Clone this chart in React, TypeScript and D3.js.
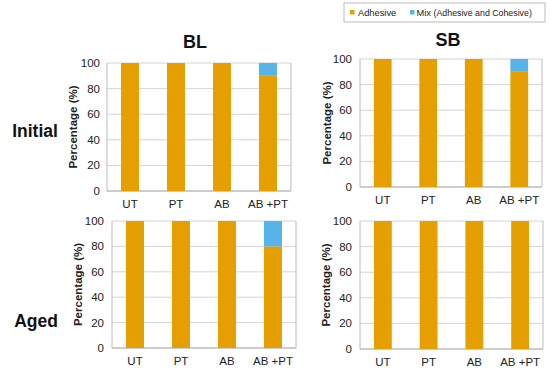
import React from "react";
import * as d3 from "d3";

const categories = ["UT", "PT", "AB", "AB +PT"];
const yTicks = [0, 20, 40, 60, 80, 100];
const seriesNames = ["Adhesive", "Mix"];
const blInitialAdhesive = [100, 100, 100, 90];
const blInitialMix = [0, 0, 0, 10];
const sbInitialAdhesive = [100, 100, 100, 90];
const sbInitialMix = [0, 0, 0, 10];
const blAgedAdhesive = [100, 100, 100, 80];
const blAgedMix = [0, 0, 0, 20];
const sbAgedAdhesive = [100, 100, 100, 100];
const sbAgedMix = [0, 0, 0, 0];

const ORANGE = "#E69F00";
const BLUE = "#56B4E9";
const FONT = "'Liberation Sans', Arial, sans-serif";

type PanelProps = {
  left: number; right: number; top: number; bottom: number;
  adhesive: number[]; mix: number[]; titleX: number; tickX: number;
};

function Panel({ left, right, top, bottom, adhesive, mix, titleX, tickX }: PanelProps) {
  const x = d3.scaleBand<string>().domain(categories).range([left, right]).paddingInner(0.61).paddingOuter(0.305);
  const y = d3.scaleLinear().domain([0, 100]).range([bottom, top]);
  const stack = d3.stack<any>().keys(seriesNames)(
    categories.map((c, i) => ({ cat: c, Adhesive: adhesive[i], Mix: mix[i] }))
  );
  const colors = [ORANGE, BLUE];
  return (
    <g>
      {yTicks.map((t) => (
        <line key={t} x1={left} x2={right} y1={y(t)} y2={y(t)} stroke={t === 0 ? "#9a9a9a" : "#d4d4d4"} strokeWidth={1} />
      ))}
      <line x1={left} x2={left} y1={top} y2={bottom} stroke="#bcbcbc" />
      <line x1={right} x2={right} y1={top} y2={bottom} stroke="#bcbcbc" />
      {stack.map((s, si) =>
        s.map((d, i) => (
          <rect key={si + "-" + i} x={x(categories[i])} width={x.bandwidth()} y={y(d[1])} height={Math.max(0, y(d[0]) - y(d[1]))} fill={colors[si]} />
        ))
      )}
      {yTicks.map((t) => (
        <text key={"t" + t} x={tickX} y={y(t)} dy="0.35em" textAnchor="end" fontSize={11.5} fontFamily={FONT} fill="#222">{t}</text>
      ))}
      {categories.map((c) => (
        <text key={"c" + c} x={x(c)! + x.bandwidth() / 2} y={bottom + 13} dy="0.35em" textAnchor="middle" fontSize={11.5} fontFamily={FONT} fill="#222">{c}</text>
      ))}
      <text transform={`translate(${titleX},${(top + bottom) / 2}) rotate(-90)`} textAnchor="middle" dy="0.35em" fontSize={11.5} fontWeight="bold" fontFamily={FONT} fill="#222">Percentage (%)</text>
    </g>
  );
}

export default function App() {
  return (
    <svg width={550} height={377} style={{ position: "absolute", left: 0, top: 0, background: "#fff" }}>
      <rect x={344} y={3} width={201} height={19} fill="#fff" stroke="#aaa" strokeWidth={0.8} />
      <rect x={350} y={10} width={4.5} height={4.5} fill={ORANGE} />
      <text x={358} y={12.5} dy="0.35em" fontSize={9.3} fontFamily={FONT} fill="#222">Adhesive</text>
      <rect x={410} y={10} width={4.5} height={4.5} fill={BLUE} />
      <text x={416.5} y={12.5} dy="0.35em" fontSize={9.3} fontFamily={FONT} fill="#222">Mix <tspan fontSize={8.8}>(Adhesive and Cohesive)</tspan></text>

      <text x={195} y={42} dy="0.35em" textAnchor="middle" fontSize={18} fontWeight="bold" fontFamily={FONT} fill="#111">BL</text>
      <text x={448} y={40} dy="0.35em" textAnchor="middle" fontSize={18} fontWeight="bold" fontFamily={FONT} fill="#111">SB</text>
      <text x={35} y={131} dy="0.35em" textAnchor="middle" fontSize={17.5} fontWeight="bold" fontFamily={FONT} fill="#111">Initial</text>
      <text x={36} y={321} dy="0.35em" textAnchor="middle" fontSize={17.5} fontWeight="bold" fontFamily={FONT} fill="#111">Aged</text>

      <Panel left={107} right={291} top={63} bottom={191} adhesive={blInitialAdhesive} mix={blInitialMix} titleX={73} tickX={100} />
      <Panel left={360} right={542} top={59} bottom={187} adhesive={sbInitialAdhesive} mix={sbInitialMix} titleX={327} tickX={352} />
      <Panel left={112} right={296} top={221} bottom={348} adhesive={blAgedAdhesive} mix={blAgedMix} titleX={78} tickX={104} />
      <Panel left={360} right={543} top={221} bottom={349} adhesive={sbAgedAdhesive} mix={sbAgedMix} titleX={326} tickX={352} />
    </svg>
  );
}
